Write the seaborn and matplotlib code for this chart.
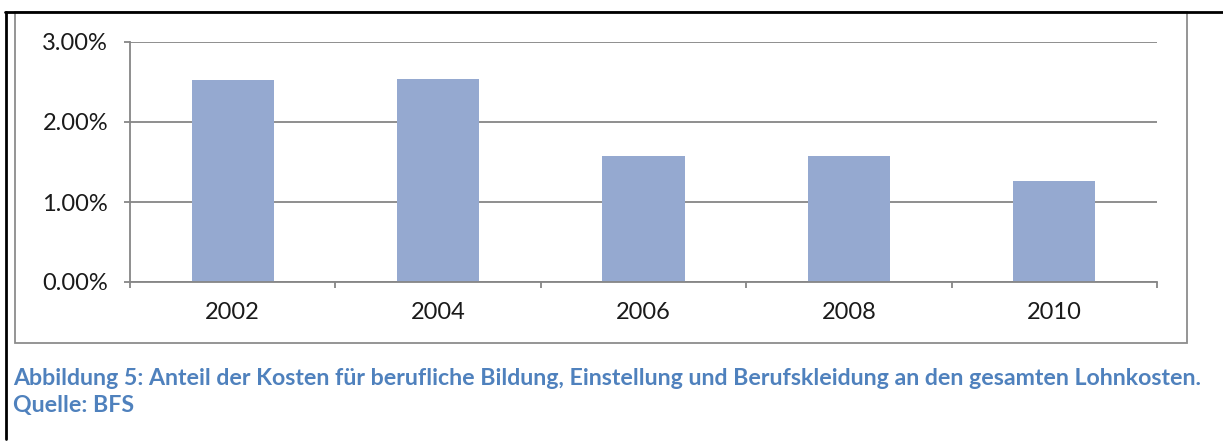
import matplotlib
matplotlib.use("Agg")
import matplotlib.pyplot as plt
import seaborn as sns
import pandas as pd
import numpy as np
from matplotlib.lines import Line2D
from matplotlib.patches import Rectangle
from matplotlib.ticker import FixedLocator

years = ["2002", "2004", "2006", "2008", "2010"]
shares = [2.53, 2.54, 1.58, 1.58, 1.26]  # percent
y_ticks = [0, 1, 2, 3]
y_tick_labels = ["0.00%", "1.00%", "2.00%", "3.00%"]
caption_1 = "Abbildung 5: Anteil der Kosten für berufliche Bildung, Einstellung und Berufskleidung an den gesamten Lohnkosten."
caption_2 = "Quelle: BFS"

sns.set_theme(style="white")
plt.rcParams["font.family"] = ["Lato", "DejaVu Sans"]

W, H = 1223, 441
fig = plt.figure(figsize=(W / 100, H / 100), dpi=100)

def fx(px):
    return px / W

def fy(py):
    return 1 - py / H

PT = 72 / 100  # points per pixel

ax = fig.add_axes([fx(130), fy(282), fx(1157) - fx(130), fy(42) - fy(282)])
df = pd.DataFrame({"year": years, "share": shares})
sns.barplot(data=df, x="year", y="share", color="#95A9D0", width=0.4,
            saturation=1, ax=ax, edgecolor="none")

ax.set_ylim(0, 3)
ax.set_xlim(-0.5, len(years) - 0.5)
ax.set_yticks(y_ticks)
ax.set_yticklabels(y_tick_labels, fontsize=17, color="#1a1a1a")
ax.set_xlabel("")
ax.set_ylabel("")
for lab in ax.get_xticklabels():
    lab.set_fontsize(17)
    lab.set_color("#1a1a1a")

ax.grid(axis="y", color="#868686", linewidth=1.3)
ax.set_axisbelow(True)
for s in ["top", "right"]:
    ax.spines[s].set_visible(False)
for s in ["left", "bottom"]:
    ax.spines[s].set_color("#868686")
    ax.spines[s].set_linewidth(1.3)

ax.xaxis.set_minor_locator(FixedLocator(np.arange(-0.5, len(years), 1.0)))
ax.tick_params(axis="x", which="major", length=0, pad=20 * PT)
ax.tick_params(axis="x", which="minor", length=6 * PT, width=1.3, color="#868686",
               direction="out", bottom=True)
ax.tick_params(axis="y", which="major", length=6 * PT, width=1.3, color="#868686",
               direction="out", left=True, pad=16 * PT)

# chart frame (gray) and page borders (black)
fig.patches.append(Rectangle((fx(15), fy(343)), fx(1187) - fx(15), fy(12) - fy(343),
                             transform=fig.transFigure, fill=False,
                             edgecolor="#8c8c8c", linewidth=1.3))
fig.lines.append(Line2D([fx(5), 1], [fy(12), fy(12)], transform=fig.transFigure,
                        color="black", linewidth=2))
fig.lines.append(Line2D([fx(6), fx(6)], [fy(12), fy(439)], transform=fig.transFigure,
                        color="black", linewidth=2))

fig.text(fx(13), fy(385), caption_1, fontsize=16.7, fontweight="bold",
         color="#4F81BD", va="baseline", ha="left")
fig.text(fx(13), fy(412), caption_2, fontsize=16.7, fontweight="bold",
         color="#4F81BD", va="baseline", ha="left")

fig.savefig("out.png", dpi=100)
